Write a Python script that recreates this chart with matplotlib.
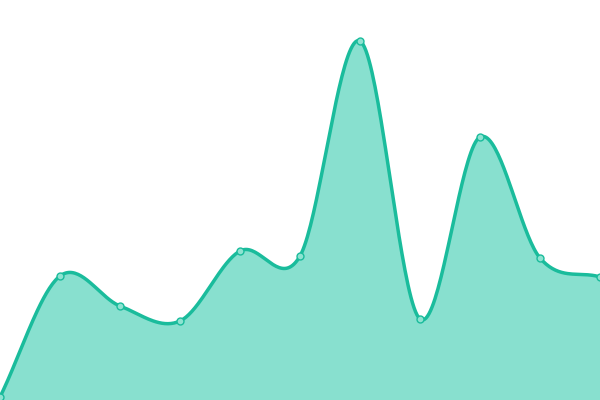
import matplotlib
matplotlib.use("Agg")
import matplotlib.pyplot as plt
import numpy as np

# data (x positions and heights)
x_points = [0, 60, 120, 180, 240, 300, 360, 420, 480, 540, 600]
values = [3, 124, 94, 79, 149, 144, 359, 81, 263, 142, 123]

LINE_COLOR = "#1abc9c"
FILL_COLOR = "#88e0cf"


def catmull_rom(xs, ys, steps=40):
    """Smooth the polyline for drawing (Catmull-Rom / Hermite segments)."""
    xs = np.asarray(xs, dtype=float)
    ys = np.asarray(ys, dtype=float)
    n = len(xs)
    m = np.zeros(n)
    for i in range(n):
        if i == 0:
            m[i] = (ys[1] - ys[0]) / (xs[1] - xs[0])
        elif i == n - 1:
            m[i] = (ys[-1] - ys[-2]) / (xs[-1] - xs[-2])
        else:
            m[i] = (ys[i + 1] - ys[i - 1]) / (xs[i + 1] - xs[i - 1])
    out_x, out_y = [], []
    for i in range(n - 1):
        h = xs[i + 1] - xs[i]
        t = np.linspace(0, 1, steps, endpoint=(i == n - 2))
        h00 = 2 * t**3 - 3 * t**2 + 1
        h10 = t**3 - 2 * t**2 + t
        h01 = -2 * t**3 + 3 * t**2
        h11 = t**3 - t**2
        out_x.append(xs[i] + t * h)
        out_y.append(h00 * ys[i] + h10 * h * m[i] + h01 * ys[i + 1] + h11 * h * m[i + 1])
    return np.concatenate(out_x), np.concatenate(out_y)


fig = plt.figure(figsize=(6, 4), dpi=100)
ax = fig.add_axes([0, 0, 1, 1])

sx, sy = catmull_rom(x_points, values)
ax.fill_between(sx, sy, 0, color=FILL_COLOR, linewidth=0)
ax.plot(sx, sy, color=LINE_COLOR, linewidth=2.5, solid_capstyle="round")
ax.plot(x_points, values, linestyle="none", marker="o", markersize=5,
        markerfacecolor="#8ee3d1", markeredgecolor=LINE_COLOR, markeredgewidth=1)

ax.set_xlim(0, 600)
ax.set_ylim(0, 400)
ax.axis("off")

fig.savefig("out.png", dpi=100)
